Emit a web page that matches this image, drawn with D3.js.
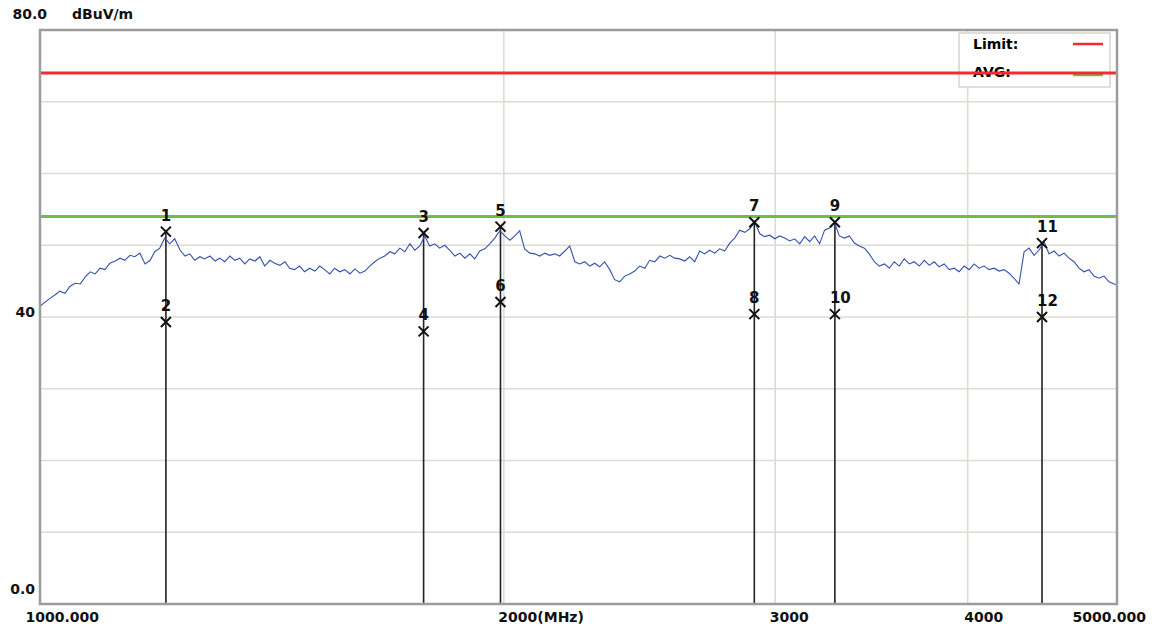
<!DOCTYPE html>
<html>
<head>
<meta charset="utf-8">
<script src="https://cdn.jsdelivr.net/npm/d3@7"></script>
<style>
  body { margin: 0; background: #fff; }
  text { font-family: "DejaVu Sans", sans-serif; }
</style>
</head>
<body>
<div id="chart"></div>
<script>
// trace (MHz / dBuV/m)
var traceFreq = [
  1000,1008,1015,1023,1030,1038,1046,1054,1062,1070,
  1078,1086,1094,1102,1110,1119,1127,1135,1144,1152,
  1161,1170,1179,1187,1196,1205,1214,1223,1233,1242,
  1251,1260,1270,1279,1289,1299,1308,1318,1328,1338,
  1348,1358,1368,1379,1389,1399,1410,1420,1431,1442,
  1452,1463,1474,1485,1496,1508,1519,1530,1542,1553,
  1565,1577,1589,1601,1613,1625,1637,1649,1662,1674,
  1687,1699,1712,1725,1738,1751,1764,1777,1790,1804,
  1817,1831,1845,1859,1873,1887,1901,1915,1929,1944,
  1958,1973,1988,2003,2018,2033,2048,2063,2079,2095,
  2110,2126,2142,2158,2174,2191,2207,2224,2240,2257,
  2274,2291,2308,2325,2343,2360,2378,2396,2414,2432,
  2450,2469,2487,2506,2525,2544,2563,2582,2601,2621,
  2640,2660,2680,2700,2720,2741,2761,2782,2803,2824,
  2845,2867,2888,2910,2932,2953,2976,2998,3020,3043,
  3066,3089,3112,3135,3159,3182,3206,3230,3254,3279,
  3302,3327,3352,3377,3402,3428,3453,3479,3505,3532,
  3558,3584,3611,3638,3666,3693,3721,3749,3777,3805,
  3833,3862,3891,3920,3949,3979,4009,4039,4069,4099,
  4130,4161,4192,4224,4255,4287,4319,4352,4384,4417,
  4450,4484,4517,4551,4585,4620,4654,4689,4724,4760,
  4795,4831,4867,4904,4941,4978,5000
];
var traceLevel = [
  41.5,42.1,42.6,43.1,43.6,43.3,44.3,44.7,44.6,45.6,
  46.3,46.0,46.8,46.6,47.5,47.8,48.2,47.9,48.6,48.4,
  48.9,47.4,47.9,49.1,49.6,51.0,50.2,50.9,49.3,48.5,
  48.8,47.9,48.4,48.1,48.5,47.8,48.2,47.7,48.5,47.9,
  48.2,47.4,48.1,47.8,48.4,47.1,47.9,47.5,47.2,47.7,
  46.8,46.6,47.1,46.3,46.8,46.4,47.1,46.6,46.0,46.8,
  46.3,46.6,46.0,46.7,46.1,46.4,47.1,47.7,48.2,48.5,
  49.1,48.8,49.6,49.1,50.2,49.3,49.9,51.3,49.9,50.2,
  49.6,50.0,49.3,48.5,48.9,48.2,48.8,48.1,49.2,49.5,
  50.2,51.0,52.0,51.3,50.7,51.3,52.0,49.5,48.9,48.8,
  48.5,48.9,48.6,48.8,48.5,49.2,49.9,47.7,47.4,47.7,
  47.1,47.5,47.0,47.7,46.6,45.2,44.9,45.7,46.0,46.4,
  47.1,46.8,47.9,47.7,48.5,48.2,48.6,48.2,48.1,47.8,
  48.4,47.7,49.2,48.8,49.3,48.9,49.5,49.2,50.3,51.0,
  52.1,51.8,52.3,53.2,51.6,51.2,51.4,50.9,51.3,51.0,
  50.6,50.9,50.2,51.2,50.5,51.3,50.2,52.1,52.4,53.1,
  51.3,51.0,51.3,50.3,49.9,49.6,48.8,47.7,47.1,47.4,
  46.8,47.7,47.1,48.1,47.4,47.7,47.1,47.9,47.2,47.7,
  47.0,47.4,46.6,46.8,46.3,47.1,46.6,47.4,46.8,47.1,
  46.6,46.8,46.4,46.6,46.1,45.4,44.6,49.1,49.6,48.6,
  49.3,50.5,48.8,49.2,48.5,48.9,48.2,47.7,46.8,46.3,
  46.6,45.7,45.4,45.7,44.9,44.6,44.5
];

// markers
var markerNames = ["1","2","3","4","5","6","7","8","9","10","11","12"];
var markerFreq = [1207,1207,1774,1774,1990,1990,2908,2908,3280,3280,4470,4470];
var markerLevel = [51.9,39.3,51.7,38.0,52.6,42.1,53.2,40.4,53.2,40.4,50.3,40.0];

var limitLevel = 74;
var avgLevel = 54;

var xTicks = [1000, 2000, 3000, 4000, 5000];
var xTickLabels = ["1000.000", "2000(MHz)", "3000", "4000", "5000.000"];
var xGrid = [2000, 3000, 4000];
var yTicks = [0, 40, 80];
var yTickLabels = ["0.0", "40", "80.0"];
var yGrid = [10, 20, 30, 40, 50, 60, 70];
var yUnit = "dBuV/m";
var legendNames = ["Limit:", "AVG:"];
var legendColors = ["#f52a2a", "#6cbf45"];

var width = 1156, height = 633;
var plotLeft = 40, plotRight = 1117, plotTop = 30, plotBottom = 604;

var svg = d3.select("#chart").append("svg")
    .attr("width", width)
    .attr("height", height);

svg.append("rect").attr("width", width).attr("height", height).attr("fill", "#fff");

var x = d3.scaleLog().domain([1000, 5000]).range([plotLeft, plotRight]);
var y = d3.scaleLinear().domain([0, 80]).range([plotBottom, plotTop]);

// grid
svg.append("g").selectAll("line")
  .data(yGrid).enter().append("line")
    .attr("x1", plotLeft).attr("x2", plotRight)
    .attr("y1", function(d) { return y(d); })
    .attr("y2", function(d) { return y(d); })
    .attr("stroke", "#dedbd5").attr("stroke-width", 1.6);

svg.append("g").selectAll("line")
  .data(xGrid).enter().append("line")
    .attr("x1", function(d) { return x(d); })
    .attr("x2", function(d) { return x(d); })
    .attr("y1", plotTop).attr("y2", plotBottom)
    .attr("stroke", "#dedbd5").attr("stroke-width", 1.6);

// legend box (drawn over the grid)
var leg = svg.append("g").attr("transform", "translate(959,33)");
leg.append("rect")
    .attr("width", 151).attr("height", 54)
    .attr("fill", "#fff").attr("stroke", "#d6d3cc").attr("stroke-width", 1.5);
leg.selectAll("text")
  .data(legendNames).enter().append("text")
    .attr("x", 14)
    .attr("y", function(d, i) { return 16 + i * 28; })
    .style("font-size", "14px").style("font-weight", "bold")
    .text(function(d) { return d; });
leg.selectAll("line")
  .data(legendColors).enter().append("line")
    .attr("x1", 114).attr("x2", 144)
    .attr("y1", function(d, i) { return 11 + i * 31; })
    .attr("y2", function(d, i) { return 11 + i * 31; })
    .attr("stroke", function(d) { return d; })
    .attr("stroke-width", 2.5);

// limit lines
svg.append("line")
    .attr("x1", plotLeft).attr("x2", plotRight)
    .attr("y1", y(limitLevel)).attr("y2", y(limitLevel))
    .attr("stroke", legendColors[0]).attr("stroke-width", 3);
svg.append("line")
    .attr("x1", plotLeft).attr("x2", plotRight)
    .attr("y1", y(avgLevel)).attr("y2", y(avgLevel))
    .attr("stroke", legendColors[1]).attr("stroke-width", 3);

// marker stems
var stems = [];
markerFreq.forEach(function(f, i) {
  if (i % 2 == 0) stems.push({ f: f, level: Math.max(markerLevel[i], markerLevel[i + 1]) });
});
svg.append("g").selectAll("line")
  .data(stems).enter().append("line")
    .attr("x1", function(d) { return x(d.f); })
    .attr("x2", function(d) { return x(d.f); })
    .attr("y1", function(d) { return y(d.level); })
    .attr("y2", plotBottom)
    .attr("stroke", "#222").attr("stroke-width", 1.6);

// trace
var trace = traceFreq.map(function(f, i) { return [f, traceLevel[i]]; });
svg.append("path")
    .datum(trace)
    .attr("fill", "none")
    .attr("stroke", "#3352ad")
    .attr("stroke-width", 1.1)
    .attr("d", d3.line()
      .x(function(d) { return x(d[0]); })
      .y(function(d) { return y(d[1]); }));

// markers: cross + number
var marks = svg.append("g").selectAll("g")
  .data(markerNames).enter().append("g")
    .attr("transform", function(d, i) {
      return "translate(" + x(markerFreq[i]) + "," + y(markerLevel[i]) + ")";
    });
marks.append("path")
    .attr("d", "M-5,-5L5,5M5,-5L-5,5")
    .attr("stroke", "#111").attr("stroke-width", 2).attr("fill", "none");
marks.append("text")
    .attr("x", function(d) { return d.length > 1 ? -5 : 0; })
    .attr("y", -11)
    .attr("text-anchor", function(d) { return d.length > 1 ? "start" : "middle"; })
    .style("font-size", "15px")
    .style("font-weight", "bold")
    .attr("fill", "#111")
    .text(function(d) { return d; });

// frame
svg.append("rect")
    .attr("x", plotLeft).attr("y", plotTop)
    .attr("width", plotRight - plotLeft).attr("height", plotBottom - plotTop)
    .attr("fill", "none").attr("stroke", "#9c9c9c").attr("stroke-width", 2.5);

// x axis labels
var xLabelShift = [-15, -6, -6, -4, -45];
var gx = svg.append("g")
    .attr("transform", "translate(0," + plotBottom + ")")
    .call(d3.axisBottom(x).tickValues(xTicks)
      .tickFormat(function(d, i) { return xTickLabels[i]; })
      .tickSize(0).tickPadding(8));
gx.select(".domain").remove();
gx.selectAll("text")
    .attr("text-anchor", "start")
    .attr("dx", function(d, i) { return xLabelShift[i]; })
    .style("font-family", "DejaVu Sans")
    .style("font-size", "14px").style("font-weight", "bold")
    .attr("fill", "#111");

// y axis labels
var yLabelX = [-5, -5, 7];
var yLabelY = [-15, -5, -16];
var gy = svg.append("g")
    .attr("transform", "translate(" + plotLeft + ",0)")
    .call(d3.axisLeft(y).tickValues(yTicks)
      .tickFormat(function(d, i) { return yTickLabels[i]; })
      .tickSize(0));
gy.select(".domain").remove();
gy.selectAll("text")
    .attr("x", function(d, i) { return yLabelX[i]; })
    .attr("y", function(d, i) { return yLabelY[i]; })
    .style("font-family", "DejaVu Sans")
    .style("font-size", "14px").style("font-weight", "bold")
    .attr("fill", "#111");

svg.append("text")
    .attr("x", 72).attr("y", 19)
    .style("font-size", "14px").style("font-weight", "bold")
    .attr("fill", "#111")
    .text(yUnit);
</script>
</body>
</html>
